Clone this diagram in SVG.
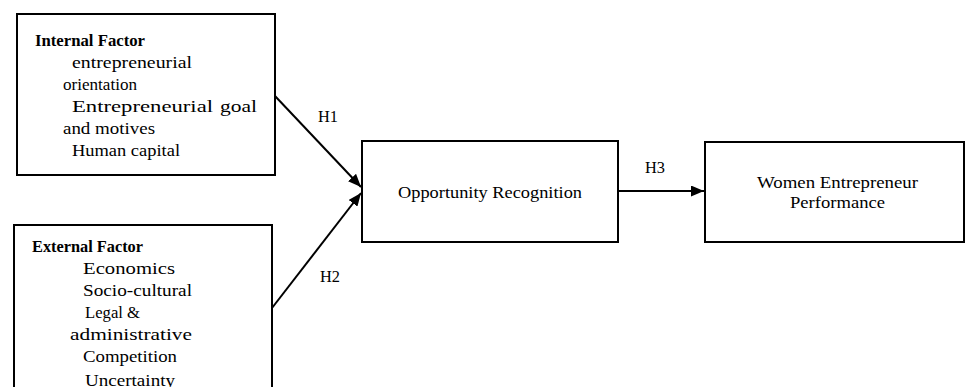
<svg xmlns="http://www.w3.org/2000/svg" width="966" height="387" viewBox="0 0 966 387">
<style>
.box{fill:#fff;stroke:#000;stroke-width:2}
.t{font-family:"Liberation Serif","Times New Roman",serif;font-size:17.5px;fill:#000}
.b{font-weight:bold;font-size:17px}
.c{stroke:#000;stroke-width:2;fill:none}
</style>
<defs>
<marker id="ah" viewBox="0 0 13 11" refX="13" refY="5.5" markerWidth="13" markerHeight="11" markerUnits="userSpaceOnUse" orient="auto">
<path d="M0,0 L13,5.5 L0,11 Z" fill="#000"/>
</marker>
</defs>
<rect width="966" height="387" fill="#fff"/>
<g id="connectors">
<line class="c" x1="275" y1="96" x2="361" y2="187" marker-end="url(#ah)"/>
<line class="c" x1="272" y1="308" x2="361" y2="193" marker-end="url(#ah)"/>
<line class="c" x1="618" y1="191" x2="704" y2="191" marker-end="url(#ah)"/>
<text class="t" x="318" y="122" textLength="20" lengthAdjust="spacingAndGlyphs">H1</text>
<text class="t" x="320" y="282" textLength="20" lengthAdjust="spacingAndGlyphs">H2</text>
<text class="t" x="645" y="173" textLength="20" lengthAdjust="spacingAndGlyphs">H3</text>
</g>
<g id="internal">
<rect class="box" x="17" y="14" width="258" height="161"/>
<text class="t b" x="35" y="46" textLength="110" lengthAdjust="spacingAndGlyphs">Internal Factor</text>
<text class="t" x="72" y="68" textLength="120" lengthAdjust="spacingAndGlyphs">entrepreneurial</text>
<text class="t" x="63" y="90" textLength="74" lengthAdjust="spacingAndGlyphs">orientation</text>
<text class="t" x="72" y="112"><tspan textLength="141" lengthAdjust="spacingAndGlyphs">Entrepreneurial</tspan><tspan x="220" textLength="37" lengthAdjust="spacingAndGlyphs">goal</tspan></text>
<text class="t" x="63" y="134" textLength="92" lengthAdjust="spacingAndGlyphs">and motives</text>
<text class="t" x="72" y="156" textLength="108" lengthAdjust="spacingAndGlyphs">Human capital</text>
</g>
<g id="external">
<rect class="box" x="14" y="225" width="258" height="180"/>
<text class="t b" x="32" y="252" textLength="111" lengthAdjust="spacingAndGlyphs">External Factor</text>
<text class="t" x="83" y="274" textLength="92" lengthAdjust="spacingAndGlyphs">Economics</text>
<text class="t" x="83" y="296" textLength="109" lengthAdjust="spacingAndGlyphs">Socio-cultural</text>
<text class="t" x="85" y="318" textLength="55" lengthAdjust="spacingAndGlyphs">Legal &amp;</text>
<text class="t" x="70" y="340" textLength="122" lengthAdjust="spacingAndGlyphs">administrative</text>
<text class="t" x="83" y="362" textLength="94" lengthAdjust="spacingAndGlyphs">Competition</text>
<text class="t" x="85" y="386" textLength="90" lengthAdjust="spacingAndGlyphs">Uncertainty</text>
</g>
<g id="opportunity">
<rect class="box" x="362" y="141" width="256" height="101"/>
<text class="t" x="398" y="198" textLength="184" lengthAdjust="spacingAndGlyphs">Opportunity Recognition</text>
</g>
<g id="performance">
<rect class="box" x="705" y="142" width="259" height="100"/>
<text class="t" x="757" y="188" textLength="161" lengthAdjust="spacingAndGlyphs">Women Entrepreneur</text>
<text class="t" x="790" y="208" textLength="95" lengthAdjust="spacingAndGlyphs">Performance</text>
</g>
</svg>
